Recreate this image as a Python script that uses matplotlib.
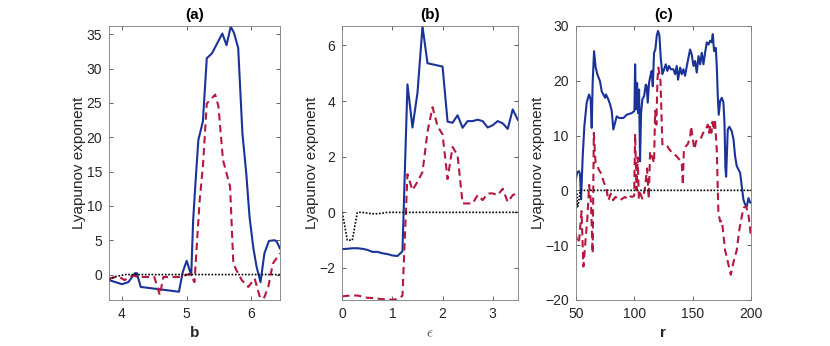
import matplotlib.pyplot as plt
import numpy as np

plt.rcParams['font.family'] = ['Liberation Sans', 'DejaVu Sans']
plt.rcParams['mathtext.fontset'] = 'cm'

BLUE = '#1a3399'
RED = '#b5183f'
AXC = '#262626'

# ---- panel (a): parameter b
b_blue = [3.8, 4.0, 4.1, 4.2, 4.23, 4.29, 4.88, 4.94, 5.0, 5.07, 5.1, 5.14, 5.18, 5.25, 5.31,
          5.39, 5.55, 5.615, 5.68, 5.73, 5.795, 5.86, 5.92, 5.97, 6.03, 6.08, 6.14, 6.2,
          6.27, 6.36, 6.39, 6.44]
lya_a_blue = [-0.8, -1.4, -1.1, 0.2, 0.2, -1.8, -2.5, 0.4, 2.0, -0.1, 8.0, 14.0, 19.6, 22.3,
              31.5, 32.2, 35.1, 33.4, 36.1, 35.2, 33.0, 20.6, 14.7, 8.4, 3.8, 1.1, -1.1, 3.1,
              4.9, 5.0, 4.8, 3.8]
b_red = [3.8, 3.94, 4.04, 4.17, 4.25, 4.5, 4.585, 4.64, 4.89, 5.05, 5.12, 5.2, 5.25, 5.31,
         5.44, 5.49, 5.56, 5.67, 5.72, 5.77, 5.85, 5.95, 6.05, 6.13, 6.19, 6.26, 6.33, 6.44]
lya_a_red = [-0.6, -0.25, -0.8, -0.1, -0.35, -0.35, -3.0, -0.35, -0.35, 0.1, -1.1, 10.8,
             15.7, 24.9, 26.2, 24.5, 16.7, 12.8, 1.6, 0.6, -0.8, -1.8, -0.6, -3.3, -3.5,
             -1.8, 1.6, 3.1]
b_black = [3.8, 3.9, 4.0, 4.05, 6.44]
lya_a_black = [-0.7, -0.3, -0.1, 0.0, 0.0]

# ---- panel (b): coupling epsilon
eps = [0.0, 0.1, 0.2, 0.3, 0.4, 0.5, 0.6, 0.7, 0.8, 0.9, 1.0, 1.1, 1.2, 1.3, 1.4, 1.5, 1.6,
       1.7, 1.8, 1.9, 2.0, 2.1, 2.2, 2.3, 2.4, 2.5, 2.6, 2.7, 2.8, 2.9, 3.0, 3.1, 3.2, 3.3,
       3.4, 3.5]
lya_b_blue = [-1.32, -1.31, -1.29, -1.29, -1.31, -1.35, -1.42, -1.42, -1.47, -1.5, -1.55,
              -1.57, -1.4, 4.6, 3.05, 4.3, 6.68, 5.36, 5.32, 5.28, 5.24, 3.26, 3.22, 3.49,
              3.04, 3.28, 3.28, 3.33, 3.28, 3.05, 3.13, 3.28, 3.2, 3.0, 3.7, 3.33]
lya_b_red = [-3.02, -3.0, -2.99, -2.99, -3.03, -3.07, -3.08, -3.1, -3.12, -3.13, -3.14,
             -3.12, -3.0, 1.37, 0.8, 1.1, 1.45, 2.9, 3.78, 3.1, 2.8, 1.2, 2.35, 2.05, 0.32,
             0.32, 0.32, 0.62, 0.44, 0.68, 0.68, 0.62, 0.85, 0.37, 0.62, 0.7]
lya_b_black = [0.0, -1.0, -1.0, 0.0, 0.0, -0.03, -0.05, -0.05, -0.03, 0.0, 0.0, 0.0, 0.0,
               0.0, 0.0, 0.0, 0.0, 0.0, 0.0, 0.0, 0.0, 0.0, 0.0, 0.0, 0.0, 0.0, 0.0, 0.0,
               0.0, 0.0, 0.0, 0.0, 0.0, 0.0, 0.0, 0.0]

# ---- panel (c): parameter r
r_blue = [50, 51.4, 52.9, 53.7, 54.6, 56, 57.4, 59.4, 61.4, 62.8, 63.7, 64.5, 65.7, 67.1,
          68.5, 70.8, 72.2, 75.1, 75.9, 77.9, 79.4, 80.8, 82.2, 83.6, 85.1, 87.1, 90.8, 93.6,
          97.9, 100.2, 100.8, 101.6, 102.5, 103.3, 104.2, 105, 105.9, 107, 108.5, 109.9,
          110.7, 111.6, 112.7, 114.2, 115, 115.9, 117, 118.1, 119.3, 120.4, 121.6, 122.7,
          124.1, 125.6, 127, 128.4, 129.8, 131.3, 133.5, 135, 136.4, 137.5, 139.3, 140.7,
          142.1, 143.5, 145, 146.4, 147.8, 149.2, 150.7, 152.1, 153.5, 155, 156.4, 157.8,
          159.2, 160.6, 162.1, 163.5, 164.9, 166.3, 167.2, 168.3, 169.8, 170.6, 171.5, 172.3,
          173.5, 174.9, 176.3, 177.2, 178, 178.6, 180, 181.4, 183.4, 184.9, 186.3, 187.7,
          189.2, 190.6, 192, 193.4, 194.9, 196.3, 197.7, 199.1, 200]
lya_c_blue = [1.95, 3.3, 3.5, 2.9, -1.6, 6.2, 11.7, 16, 17.5, 16.6, 11.4, 19.6, 25.4, 22.4,
              21.2, 19.9, 18.1, 16.9, 17.5, 16.6, 15.7, 14.5, 11.1, 12.3, 13.5, 13.2, 13.2,
              13.8, 14.1, 14.5, 23.0, 14.8, 19.6, 14.1, 18.4, 5.3, 14.1, 16.6, 17.2, 19.3,
              19.0, 16, 19.6, 21.2, 21.8, 19, 25.1, 25.7, 28.2, 29.1, 28.2, 24.2, 21.2, 22.1,
              23, 21.8, 22.7, 22.1, 22.1, 21.2, 22.7, 20.2, 22.4, 21.2, 22.1, 20.9, 22.7,
              24.2, 25.7, 24.8, 22.7, 23.6, 21.5, 24.5, 23, 25.1, 23, 25.1, 27, 26.6, 27.3, 27,
              28.5, 25.4, 26, 22.7, 17.2, 13.8, 16.3, 16.9, 16, 12.3, 4.1, 2.5, 11.1, 11.6,
              10.8, 9.3, 6.2, 4.4, 3.8, 3.2, 0.7, -1.7, -2.6, -2.9, -1.4, -2.2, -2.3]
r_red = [50, 51.5, 53, 55, 56.6, 58, 60, 61.5, 63, 64.5, 65.5, 67, 68, 70, 72, 74, 76, 78,
         80, 82, 84, 86, 88, 90, 92, 94, 96, 98, 100, 100.8, 102, 103, 104, 105, 107, 109,
         111, 112.5, 113.6, 115.5, 117, 117.9, 119, 119.9, 120.7, 122.5, 124.1, 126, 128, 130,
         133, 136, 139, 140.7, 141.6, 142.5, 144, 146, 148, 148.7, 150, 151.5, 153, 155, 157,
         159, 161, 163, 164, 165, 166, 167, 168, 169, 170.6, 172, 173.5, 175, 177.7, 180,
         182.6, 185, 187.7, 190, 193.4, 195.7, 197.7, 199.7]
lya_c_red = [-7.8, -9.6, -9.0, -3.8, -13.9, -10.2, -5.0, 1.0, -2.0, -11.5, 10.5, 5.0, 4.7,
             3.7, 3.0, 1.5, 0.5, -1.8, -0.6, -1.8, -1.2, -1.5, -1.8, -1.5, -1.2, -1.5, -1.0,
             -1.2, -1.0, 10.3, 0.0, 6.0, -1.5, -0.5, -1.5, 0.0, 4.0, -1.5, 7.1, 6.0, 5.0, 14.5,
             12.0, 20.2, 22.4, 20.0, 8.4, 8.5, 8.2, 7.5, 6.7, 6.3, 5.5, 5.0, 1.0, 7.5, 8.0, 8.5,
             10.0, 11.7, 9.5, 7.5, 9.0, 9.0, 9.5, 10.5, 11.0, 12.0, 10.5, 11.8, 10.5, 12.5,
             11.0, 13.0, 7.4, -4.1, -5.7, -5.5, -10.9, -13.0, -15.4, -13.0, -10.9, -7.0, -3.2,
             -2.9, -4.5, -8.1]
r_black = [50, 51, 51.5, 52, 53, 54, 200]
lya_c_black = [0.0, -0.5, -3.0, -2.8, -1.5, 0.0, 0.0]

fig = plt.figure(figsize=(8.3, 3.46), dpi=100)
h = 0.792
bot = 0.133
axa = fig.add_axes([0.1313, bot, 0.206, h])
axb = fig.add_axes([0.4124, bot, 0.2114, h])
axc = fig.add_axes([0.6936, bot, 0.2114, h])


def draw(ax, xb, yb, xr, yr, xk, yk):
    ax.plot(xb, yb, color=BLUE, lw=1.5)
    ax.plot(xr, yr, color=RED, lw=1.5, ls=(0, (3.5, 2.2)))
    ax.plot(xk, yk, color='k', lw=1.2, ls=(0, (1, 1)))


draw(axa, b_blue, lya_a_blue, b_red, lya_a_red, b_black, lya_a_black)
draw(axb, eps, lya_b_blue, eps, lya_b_red, eps, lya_b_black)
draw(axc, r_blue, lya_c_blue, r_red, lya_c_red, r_black, lya_c_black)

axa.set_xlim(3.8, 6.44)
axa.set_ylim(-3.7, 36.2)
axa.set_xticks([4, 5, 6])
axa.set_yticks(np.arange(0, 36, 5))

axb.set_xlim(0, 3.5)
axb.set_ylim(-3.15, 6.7)
axb.set_xticks([0, 1, 2, 3])
axb.set_yticks([-2, 0, 2, 4, 6])

axc.set_xlim(50, 200)
axc.set_ylim(-20, 30)
axc.set_xticks([50, 100, 150, 200])
axc.set_yticks(np.arange(-20, 31, 10))

for ax, ttl in zip([axa, axb, axc], ['(a)', '(b)', '(c)']):
    ax.set_title(ttl, fontsize=11, fontweight='bold', color='k', pad=5)
    ax.set_ylabel('Lyapunov exponent', fontsize=11, color=AXC, labelpad=0)
    ax.tick_params(direction='in', length=3, width=0.5, colors=AXC, labelsize=10,
                   top=True, right=True, pad=5)
    for s in ax.spines.values():
        s.set_linewidth(0.6)
        s.set_color('#7a7a7a')

axa.set_xlabel('b', fontsize=11, fontweight='bold', color=AXC)
axb.set_xlabel(r'$\epsilon$', fontsize=11, color='#555555')
axc.set_xlabel('r', fontsize=11, fontweight='bold', color=AXC)

fig.savefig('out.png', dpi=100)
